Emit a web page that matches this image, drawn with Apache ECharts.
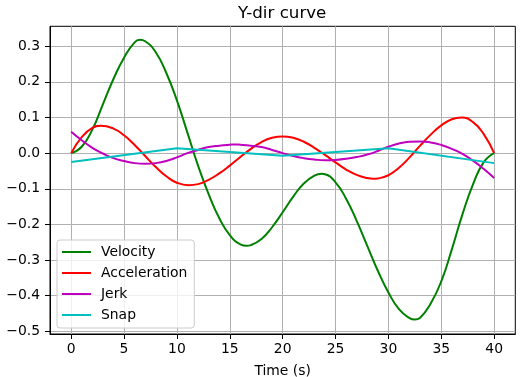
<!DOCTYPE html>
<html>
<head>
<meta charset="utf-8">
<script src="https://cdn.jsdelivr.net/npm/echarts@6/dist/echarts.min.js"></script>
<style>
  html, body { margin: 0; padding: 0; background: #fff; }
  #chart { width: 521px; height: 377px; }
</style>
</head>
<body>
<div id="chart"></div>
<script>
// velocity samples (s, value), turning points included
var velTime = [0, 1, 2, 3, 4, 5, 6, 6.5, 7, 8, 9, 10, 11, 12, 13, 14, 15, 16, 16.6, 17,
  18, 19, 20, 21, 22, 23, 23.7, 24, 25, 26, 27, 28, 29, 30, 31, 32, 32.5, 33,
  34, 35, 36, 37, 38, 39, 40];
var velocity = [0, 0.018, 0.066, 0.137, 0.208, 0.268, 0.311, 0.318, 0.314, 0.283, 0.225, 0.148,
  0.057, -0.035, -0.115, -0.182, -0.230, -0.256, -0.260, -0.258,
  -0.241, -0.208, -0.166, -0.122, -0.085, -0.063, -0.058, -0.059, -0.082, -0.128,
  -0.190, -0.260, -0.330, -0.391, -0.438, -0.463, -0.467, -0.462,
  -0.422, -0.360, -0.270, -0.172, -0.088, -0.026, 0];

var accTime = [0, 1, 2, 2.8, 4, 5, 6, 7, 8, 9, 10, 11.1, 12, 13, 14, 15, 16, 17, 18, 19, 20,
  21, 22, 23, 24, 25, 26, 27, 28, 28.6, 29, 30, 31, 32, 33, 34, 35, 36, 36.9, 38, 39, 40];
var acceleration = [0, 0.045, 0.071, 0.077, 0.069, 0.050, 0.023, -0.008, -0.039, -0.065, -0.083,
  -0.090, -0.087, -0.075, -0.057, -0.035, -0.011, 0.012, 0.031, 0.043, 0.047,
  0.043, 0.032, 0.015, -0.005, -0.026, -0.046, -0.061, -0.070, -0.072, -0.071,
  -0.062, -0.041, -0.012, 0.021, 0.052, 0.078, 0.095, 0.100, 0.087, 0.054, 0];

var jerkTime = [0, 1, 2, 3, 4, 5, 6, 7, 8, 9, 10, 11, 12, 13, 14, 15, 15.5, 16, 17, 18, 19, 20,
  21, 22, 23, 24, 25, 26, 27, 28, 29, 30, 31, 32, 33, 34, 35, 36, 37, 38, 39, 40];
var jerk = [0.060, 0.036, 0.015, -0.001, -0.014, -0.022, -0.028, -0.030, -0.028, -0.022, -0.012,
  0.000, 0.009, 0.017, 0.021, 0.0237, 0.0245, 0.0237, 0.021, 0.017, 0.009, 0.000,
  -0.008, -0.014, -0.018, -0.020, -0.019, -0.016, -0.011, -0.004, 0.006, 0.018,
  0.027, 0.032, 0.033, 0.030, 0.023, 0.012, -0.002, -0.021, -0.044, -0.070];

// snap is piecewise linear, knots every 10 s
var snapTime = [0, 10, 20, 30, 40];
var snap = [-0.025, 0.014, -0.007, 0.014, -0.028];

var xTicks = [0, 5, 10, 15, 20, 25, 30, 35, 40];
var yTicks = [-0.5, -0.4, -0.3, -0.2, -0.1, 0, 0.1, 0.2, 0.3];

var FONT = 'DejaVu Sans';

function pairs(xs, ys) {
  return xs.map(function (x, i) { return [x, ys[i]]; });
}

function lineSeries(name, color, data, smooth) {
  return {
    name: name,
    type: 'line',
    data: data,
    smooth: smooth,
    symbol: 'none',
    showSymbol: false,
    lineStyle: { color: color, width: 2 },
    itemStyle: { color: color },
    emphasis: { disabled: true }
  };
}

var chart = echarts.init(document.getElementById('chart'), null, { renderer: 'canvas' });

var option = {
  animation: false,
  backgroundColor: '#fff',
  textStyle: { fontFamily: FONT },
  title: {
    text: 'Y-dir curve',
    left: 238,
    top: 5,
    padding: 0,
    textStyle: { fontFamily: FONT, fontSize: 16.7, fontWeight: 'normal', color: '#000' }
  },
  grid: {
    left: 50,
    top: 26.3,
    width: 465.3,
    height: 307.7,
    show: true,
    borderColor: '#000',
    borderWidth: 1,
    backgroundColor: 'transparent',
    outerBoundsMode: 'none'
  },
  legend: {
    orient: 'vertical',
    left: 57,
    top: 240,
    padding: [5, 7, 6, 5],
    icon: 'rect',
    itemWidth: 29,
    itemHeight: 2,
    itemGap: 7,
    backgroundColor: 'rgba(255,255,255,0.8)',
    borderColor: '#cccccc',
    borderWidth: 1,
    borderRadius: 3,
    textStyle: { fontFamily: FONT, fontSize: 13.9, color: '#000', lineHeight: 14, padding: [0, 0, 0, 5] },
    data: ['Velocity', 'Acceleration', 'Jerk', 'Snap']
  },
  xAxis: {
    type: 'value',
    min: -2,
    max: 42,
    name: 'Time (s)',
    nameLocation: 'middle',
    nameGap: 30,
    nameTextStyle: { fontFamily: FONT, fontSize: 13.9, color: '#000' },
    axisLine: { show: true, onZero: false, lineStyle: { color: '#000', width: 1 } },
    axisTick: { show: true, length: 5, customValues: xTicks, lineStyle: { color: '#000', width: 1 } },
    axisLabel: { customValues: xTicks, margin: 8, fontFamily: FONT, fontSize: 13.9, color: '#000' },
    splitLine: { show: true, lineStyle: { color: '#b0b0b0', width: 1 } }
  },
  yAxis: {
    type: 'value',
    min: -0.5076,
    max: 0.356,
    axisLine: { show: true, onZero: false, lineStyle: { color: '#000', width: 1 } },
    axisTick: { show: true, length: 5, customValues: yTicks, lineStyle: { color: '#000', width: 1 } },
    axisLabel: {
      customValues: yTicks,
      margin: 10,
      fontFamily: FONT,
      fontSize: 13.9,
      color: '#000',
      formatter: function (v) {
        var s = Math.abs(v).toFixed(1);
        return (v < -1e-9 ? '\u2212' : '') + s;
      }
    },
    splitLine: { show: true, lineStyle: { color: '#b0b0b0', width: 1 } }
  },
  series: [
    lineSeries('Velocity', '#008000', pairs(velTime, velocity), true),
    lineSeries('Acceleration', '#ff0000', pairs(accTime, acceleration), true),
    lineSeries('Jerk', '#bf00bf', pairs(jerkTime, jerk), true),
    lineSeries('Snap', '#00bfbf', pairs(snapTime, snap), false)
  ]
};

chart.setOption(option);
</script>
</body>
</html>
